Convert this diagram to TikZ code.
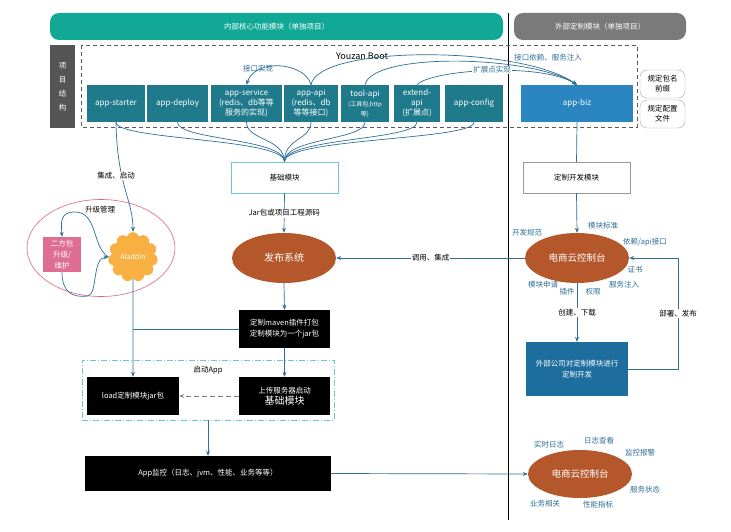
\documentclass[tikz,border=0pt]{standalone}
\usepackage{fontspec}
\setmainfont{Noto Sans CJK SC}
\usetikzlibrary{shapes.geometric,shapes.symbols,arrows.meta}
\definecolor{headteal}{HTML}{12A896}
\definecolor{headgray}{HTML}{7A7A7A}
\definecolor{modteal}{HTML}{1F7B8B}
\definecolor{bizblue}{HTML}{2A85C0}
\definecolor{linkblue}{HTML}{2E6F96}
\definecolor{rust}{HTML}{B4572B}
\definecolor{pinkbox}{HTML}{DE6E92}
\definecolor{pinkring}{HTML}{E0637A}
\definecolor{cloudorange}{HTML}{F8B042}
\definecolor{devblue}{HTML}{1D6E9E}
\definecolor{basecyan}{HTML}{6CC6DC}
\definecolor{notegray}{HTML}{555555}
\tikzset{
  module/.style={fill=modteal, text=white, align=center, minimum height=37pt,
     inner sep=1pt, font=\fontsize{8}{10}\selectfont},
  header/.style={rounded corners=9pt, text=white, minimum height=27pt,
     font=\fontsize{7.5}{9}\selectfont},
  sidenote/.style={draw=gray!70, rounded corners=7pt, align=center,
     minimum width=45pt, minimum height=28pt, font=\fontsize{7.5}{10}\selectfont},
  plainbox/.style={minimum width=107pt, minimum height=31pt,
     font=\fontsize{7.5}{9}\selectfont},
  blackbox/.style={fill=black, text=white, align=center, minimum height=38pt,
     font=\fontsize{7.5}{11}\selectfont},
  platform/.style={ellipse, fill=rust, text=white, minimum width=104pt,
     minimum height=50pt, font=\fontsize{9.5}{11}\selectfont},
  link/.style={draw=linkblue, line width=0.7pt},
  arr/.style={link, -{Stealth[length=5pt,width=4pt]}},
  tag/.style={font=\fontsize{7.5}{9}\selectfont, fill=white, inner sep=1pt},
  bluetag/.style={text=linkblue, font=\fontsize{7.5}{9}\selectfont, inner sep=1pt}
}
\def\Module#1#2#3#4{%
  \node[module, minimum width=#3] (#1) at (#2,103.5) {#4};
}

\begin{document}
\begin{tikzpicture}[x=1pt,y=-1pt]
\useasboundingbox[fill=white] (0,0) rectangle (731,532);
% headers
\node[header, fill=headteal, minimum width=453pt] (innerhead) at (276.5,26.5) {内部核心功能模块（单独项目）};
\node[header, fill=headgray, minimum width=172pt] (outerhead) at (600,26.5) {外部定制模块（单独项目）};
\draw[line width=0.6pt] (508,13) -- (508,520);
\node[fill=notegray, text=white, align=center, minimum width=25pt, minimum height=83pt,
   font=\fontsize{7.5}{14}\selectfont] (structure) at (62.5,86.5) {项\\目\\结\\构};
% Youzan Boot
\draw[gray!70!black, line width=0.7pt, dash pattern=on 4pt off 3pt] (81,45) rectangle (637,127);
\node[font=\fontsize{9}{10}\selectfont] (boot) at (362,56) {Youzan Boot};
\Module{starter}{116}{58pt}{app-starter}
\Module{deploy}{177.5}{61pt}{app-deploy}
\Module{service}{246.5}{71pt}{app-service\\(redis、db等等\\服务的实现)}
\Module{api}{311}{54pt}{app-api\\(redis、db\\等等接口)}
\Module{tool}{365}{48pt}{tool-api\\{\fontsize{6}{8}\selectfont(工具包,http}\\{\fontsize{6}{8}\selectfont 等)}}
\Module{extend}{417}{46pt}{extend-\\api\\(扩展点)}
\Module{config}{474}{58pt}{app-config}
\node[module, fill=bizblue, minimum width=112pt] (biz) at (577,103.5) {app-biz};
\node[sidenote] (prefix) at (662.5,84) {规定包名\\前缀};
\node[sidenote] (conffile) at (662.5,114) {规定配置\\文件};
% top connectors
\draw[arr] (api.north) .. controls (305,62) and (255,58) .. (service.north);
\node[bluetag] (implabel) at (258,69) {接口实现};
\draw[arr] (api.north) .. controls (318,45) and (520,45) .. (biz.north);
\draw[arr] (tool.north) .. controls (372,52) and (530,55) .. (biz.north);
\draw[arr] (extend.north) .. controls (430,70) and (540,62) .. (biz.north);
\node[bluetag, fill=white] (deplabel) at (548,58) {接口依赖、服务注入};
\node[bluetag, fill=white] (extlabel) at (492,70) {扩展点实现};
% base modules
\node[plainbox, draw=basecyan, line width=0.8pt] (base) at (284.5,177.5) {基础模块};
\node[plainbox, draw=gray!80] (custom) at (576.5,177.5) {定制开发模块};
\foreach \m in {starter,deploy,service,api,tool,extend,config}
  \draw[link] (\m.south) .. controls +(0,18) and (284,138) .. (base.north);
\draw[link] (biz.south) -- (custom.north);
% left group
\node[ellipse, draw=pinkring, line width=0.6pt, minimum width=148pt, minimum height=97pt] (upgrade) at (101,248) {};
\node[fill=pinkbox, text=white, align=center, minimum width=38pt, minimum height=35pt,
   inner sep=1pt, font=\fontsize{7.5}{11}\selectfont] (secondpkg) at (62,254.5) {二方包\\升级/\\维护};
\node[cloud, cloud puffs=11, aspect=1, fill=cloudorange, text=white, minimum width=50pt,
   minimum height=50pt, inner sep=0pt, font=\fontsize{7}{8}\selectfont] (aladdin) at (133,257) {Aladdin};
\node[tag] (upglabel) at (100,210) {升级管理};
\draw[arr] (aladdin.west) .. controls (92,248) and (98,212) .. (75,212)
   .. controls (60,212) and (61,222) .. (secondpkg.north);
\draw[arr] (secondpkg.south) .. controls (62,292) and (72,298) .. (88,296)
   .. controls (98,293) and (92,258) .. (aladdin.west);
\draw[arr] (starter.south) .. controls (117,185) and (133,200) .. (aladdin.north);
\node[tag] (intlabel) at (116,176) {集成、启动};
% release flow
\node[platform, font=\fontsize{10}{11}\selectfont] (publish) at (284,258) {发布系统};
\draw[arr] (base.south) -- node[tag] {Jar包或项目工程源码} (publish.north);
\node[blackbox, minimum width=91pt] (maven) at (284.5,329) {定制maven插件打包\\定制模块为一个jar包};
\draw[arr] (publish.south) -- (maven.north);
\node[draw=basecyan, line width=0.8pt, dash pattern=on 6pt off 2pt on 1pt off 2pt,
   minimum width=252pt, minimum height=60pt] (launch) at (208,390) {};
\node[font=\fontsize{7.5}{9}\selectfont] (launchlabel) at (208,370) {启动App};
\node[blackbox, minimum width=92pt] (load) at (133,396) {load定制模块jar包};
\node[blackbox, minimum width=91pt] (upload) at (284.5,396) {上传服务器启动\\{\fontsize{10}{12}\selectfont 基础模块}};
\draw[arr] (aladdin.south) -- (load.north);
\draw[link] (maven.west) -- (maven.west -| load.north);
\draw[arr] (maven.south) -- (upload.north);
\draw[gray, line width=0.8pt, dash pattern=on 5pt off 3pt, -{Stealth[length=5pt,width=4pt]}] (upload.west) -- (load.east);
\node[blackbox, minimum width=246pt, minimum height=35pt] (monitor) at (208,473.5) {App监控（日志、jvm、性能、业务等等）};
\draw[arr] (launch.south) -- (monitor.north);
% right flow
\node[platform] (console) at (577,258) {电商云控制台};
\draw[arr] (custom.south) -- (console.north);
\draw[arr] (console.west) -- node[tag] {调用、集成} (publish.east);
\node[fill=devblue, text=white, align=center, minimum width=102pt, minimum height=54pt,
   font=\fontsize{7.5}{11}\selectfont] (outdev) at (577,369) {外部公司对定制模块进行\\定制开发};
\draw[arr] (console.south) -- node[tag] {创建、下载} (outdev.north);
\draw[arr] (outdev.east) -- (678,369) |- node[tag, pos=0.25] {部署、发布} (console.east);
\node[bluetag] at (527,233) {开发规范};
\node[bluetag] at (603,226) {模块标准};
\node[bluetag] at (645,242) {依赖/api接口};
\node[bluetag] at (635,270) {证书};
\node[bluetag] at (624,285) {服务注入};
\node[bluetag] at (593,292) {权限};
\node[bluetag] at (567,292) {插件};
\node[bluetag] at (543,285) {模块申请};
% monitoring
\node[platform, minimum height=48pt] (monconsole) at (580,474) {电商云控制台};
\draw[arr] (monitor.east) -- (monconsole.west);
\node[bluetag] at (549,445) {实时日志};
\node[bluetag] at (599,441) {日志查看};
\node[bluetag] at (640,453) {监控报警};
\node[bluetag] at (645,490) {服务状态};
\node[bluetag] at (598,505) {性能指标};
\node[bluetag] at (545,504) {业务相关};
\end{tikzpicture}
\end{document}
